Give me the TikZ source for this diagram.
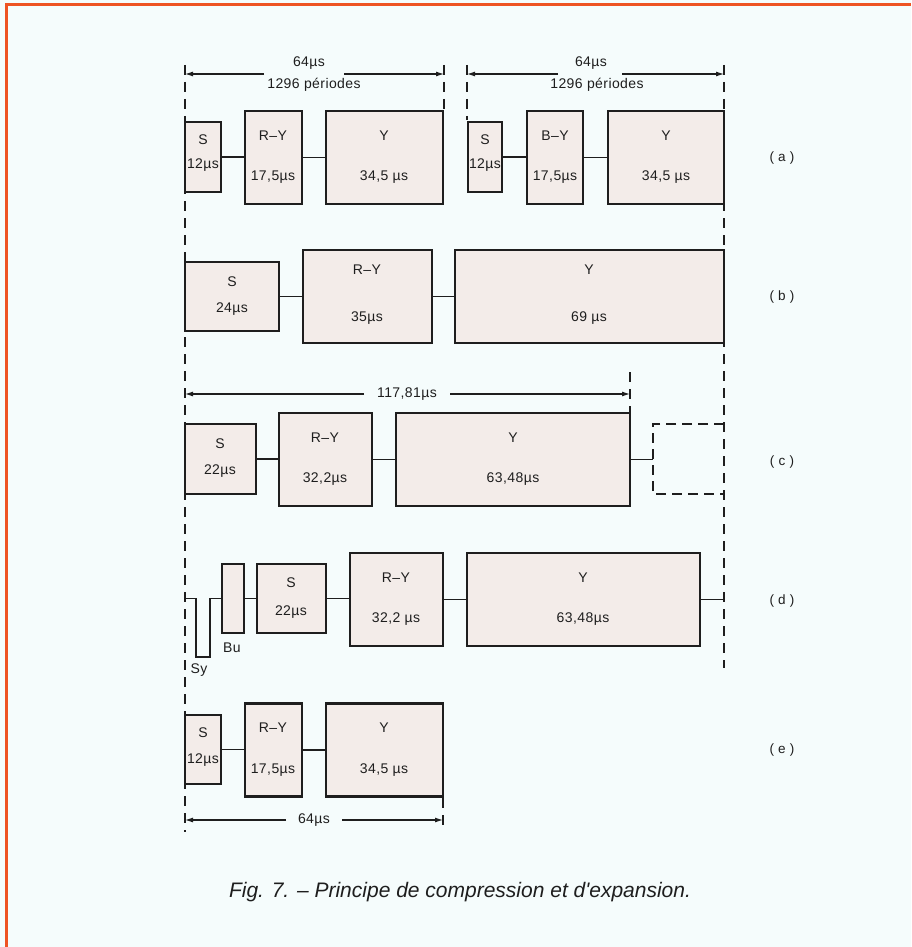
\documentclass[tikz,border=0pt]{standalone}
\usepackage{fontspec}
\setmainfont{Liberation Sans}
\newfontfamily\labfont[LetterSpace=3]{Liberation Sans}
\newfontfamily\capfont{Liberation Sans}
\usetikzlibrary{arrows.meta}
\definecolor{bg}{RGB}{245,252,252}
\definecolor{frame}{RGB}{238,84,36}
\definecolor{ink}{RGB}{30,30,30}
\definecolor{boxfill}{RGB}{243,236,233}
\tikzset{
  blk/.style={draw=ink, line width=2.3pt, fill=boxfill, inner sep=0pt, outer sep=0pt},
  conn/.style={draw=ink, line width=1.8pt},
  guide/.style={draw=ink, line width=1.1pt, dash pattern=on 10pt off 7pt},
  dim/.style={draw=ink, line width=1.1pt},
  tip/.style={-{Latex[length=8pt,width=5pt]}},
  lbl/.style={font={\labfont\fontsize{14}{16}\selectfont}, text=ink, inner sep=0pt},
  rowlbl/.style={font={\labfont\fontsize{13.5}{16}\selectfont}, text=ink, inner sep=0pt},
  dashbox/.style={draw=ink, line width=2.4pt, dash pattern=on 10pt off 6pt},
}
\begin{document}
\begin{tikzpicture}[x=1pt,y=-1pt]
\useasboundingbox (0,0) rectangle (911,947);
\fill[bg] (0,0) rectangle (911,947);
\draw[frame, line width=3pt] (6,947) -- (6,5) -- (911,5);

% guide lines
\draw[guide] (185,65) -- (185,832);
\draw[guide] (444,65) -- (444,110);
\draw[guide] (467,65) -- (467,120);
\draw[guide] (724,65) -- (724,668);
\draw[guide] (630,372) -- (630,412);
\draw[guide] (443,798) -- (443,832);

% top dimensions
\coordinate (t1L) at (185,74); \coordinate (t1R) at (444,74);
\coordinate (t1a) at (264,74); \coordinate (t1b) at (344,74);
\draw[dim,tip] (t1a) -- (t1L);
\draw[dim,tip] (t1b) -- (t1R);
\node[lbl] (t1x) at (309,63) {64µs};
\node[lbl] (t1y) at (314,85) {1296 périodes};

\coordinate (t2L) at (467,74); \coordinate (t2R) at (724,74);
\coordinate (t2a) at (558,74); \coordinate (t2b) at (622,74);
\draw[dim,tip] (t2a) -- (t2L);
\draw[dim,tip] (t2b) -- (t2R);
\node[lbl] (t2x) at (591,63) {64µs};
\node[lbl] (t2y) at (597,85) {1296 périodes};

% row a
\node[blk, minimum width=36pt, minimum height=70pt] (aS) at (203,157) {};
\node[blk, minimum width=57pt, minimum height=93pt] (aRY) at (273.5,157.5) {};
\node[blk, minimum width=117pt, minimum height=93pt] (aY) at (384.5,157.5) {};
\node[blk, minimum width=34pt, minimum height=70pt] (aS2) at (485,157) {};
\node[blk, minimum width=56pt, minimum height=93pt] (aBY) at (555,157.5) {};
\node[blk, minimum width=116pt, minimum height=93pt] (aY2) at (666,157.5) {};
\draw[conn] (aS.east) -- (aS.east -| aRY.west);
\draw[conn] (aRY.east) -- (aY.west);
\draw[conn] (aS2.east) -- (aS2.east -| aBY.west);
\draw[conn] (aBY.east) -- (aY2.west);
\node[lbl] at (203,140) {S};
\node[lbl] at (203,165) {12µs};
\node[lbl] at (273,136) {R–Y};
\node[lbl] at (273,177) {17,5µs};
\node[lbl] at (384,136) {Y};
\node[lbl] at (384,177) {34,5 µs};
\node[lbl] at (485,140) {S};
\node[lbl] at (485,165) {12µs};
\node[lbl] at (555,136) {B–Y};
\node[lbl] at (555,177) {17,5µs};
\node[lbl] at (666,136) {Y};
\node[lbl] at (666,177) {34,5 µs};
\node[rowlbl] (la) at (782,158) {( a )};

% row b
\node[blk, minimum width=94pt, minimum height=69pt] (bS) at (232,296.5) {};
\node[blk, minimum width=129pt, minimum height=93pt] (bRY) at (367.5,296.5) {};
\node[blk, minimum width=269pt, minimum height=93pt] (bY) at (589.5,296.5) {};
\draw[conn] (bS.east) -- (bRY.west);
\draw[conn] (bRY.east) -- (bY.west);
\node[lbl] at (232,282) {S};
\node[lbl] at (232,309) {24µs};
\node[lbl] at (367,270) {R–Y};
\node[lbl] at (367,318) {35µs};
\node[lbl] at (589,270) {Y};
\node[lbl] at (589,318) {69 µs};
\node[rowlbl] (lb) at (782,297) {( b )};

% row c
\coordinate (cL) at (185,394); \coordinate (cR) at (630,394);
\coordinate (ca) at (364,394); \coordinate (cb) at (450,394);
\draw[dim,tip] (ca) -- (cL);
\draw[dim,tip] (cb) -- (cR);
\node[lbl] (cx) at (407,394) {117,81µs};
\node[blk, minimum width=71pt, minimum height=70pt] (cS) at (220.5,459) {};
\node[blk, minimum width=93pt, minimum height=93pt] (cRY) at (325.5,459.5) {};
\node[blk, minimum width=234pt, minimum height=93pt] (cY) at (513,459.5) {};
\coordinate (cD) at (653,459.5);
\draw[conn] (cS.east) -- (cS.east -| cRY.west);
\draw[conn] (cRY.east) -- (cY.west);
\draw[conn] (cY.east) -- (cD);
\draw[dashbox] (724,424) -- (653,424) -- (653,494) -- (724,494);
\node[lbl] at (220,444) {S};
\node[lbl] at (220,471) {22µs};
\node[lbl] at (325,438) {R–Y};
\node[lbl] at (325,479) {32,2µs};
\node[lbl] at (513,438) {Y};
\node[lbl] at (513,479) {63,48µs};
\node[rowlbl] (lc) at (782,462) {( c )};

% row d
\node[blk, minimum width=22pt, minimum height=69pt] (dBu) at (233,598.5) {};
\node[blk, minimum width=69pt, minimum height=69pt] (dS) at (291.5,598.5) {};
\node[blk, minimum width=93pt, minimum height=93pt] (dRY) at (396.5,599.5) {};
\node[blk, minimum width=233pt, minimum height=93pt] (dY) at (583.5,599.5) {};
\coordinate (dL) at (185,598.5);
\coordinate (dR) at (724,599.5);
\draw[conn] (dL) -- (196,598.5) -- (196,657) -- (210,657) -- (210,598.5) -- (dBu.west);
\draw[conn] (dBu.east) -- (dS.west);
\draw[conn] (dS.east) -- (dS.east -| dRY.west);
\draw[conn] (dRY.east) -- (dY.west);
\draw[conn] (dY.east) -- (dR);
\node[lbl] at (232,648) {Bu};
\node[lbl] at (199,670) {Sy};
\node[lbl] at (291,583) {S};
\node[lbl] at (291,612) {22µs};
\node[lbl] at (396,578) {R–Y};
\node[lbl] at (396,619) {32,2 µs};
\node[lbl] at (583,578) {Y};
\node[lbl] at (583,619) {63,48µs};
\node[rowlbl] (ld) at (782,601) {( d )};

% row e
\node[blk, minimum width=36pt, minimum height=69pt] (eS) at (203,749.5) {};
\node[blk, minimum width=57pt, minimum height=93pt] (eRY) at (273.5,750) {};
\node[blk, minimum width=117pt, minimum height=93pt] (eY) at (384.5,750) {};
\draw[conn] (eS.east) -- (eS.east -| eRY.west);
\draw[conn] (eRY.east) -- (eY.west);
\node[lbl] at (203,733) {S};
\node[lbl] at (203,760) {12µs};
\node[lbl] at (273,728) {R–Y};
\node[lbl] at (273,770) {17,5µs};
\node[lbl] at (384,728) {Y};
\node[lbl] at (384,770) {34,5 µs};
\node[rowlbl] (le) at (782,750) {( e )};
\coordinate (eL) at (185,820); \coordinate (eR) at (443,820);
\coordinate (ea) at (286,820); \coordinate (eb) at (342,820);
\draw[dim,tip] (ea) -- (eL);
\draw[dim,tip] (eb) -- (eR);
\node[lbl] (ex) at (314,820) {64µs};

% caption
\node[font={\capfont\itshape\fontsize{21}{25}\selectfont}, text=ink, inner sep=0pt] (cap) at (460,892) {Fig. 7. – Principe de compression et d'expansion.};
\end{tikzpicture}
\end{document}
